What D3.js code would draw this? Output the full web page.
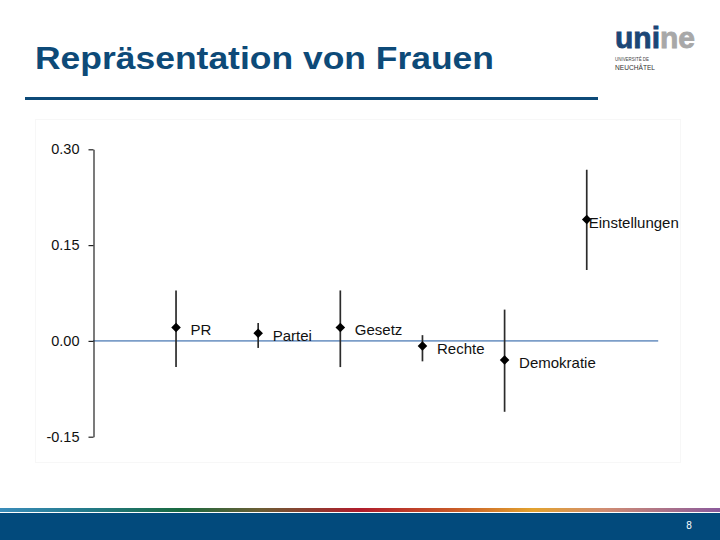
<!DOCTYPE html>
<html>
<head>
<meta charset="utf-8">
<script src="https://cdn.jsdelivr.net/npm/d3@7"></script>
<style>
  html, body { margin: 0; padding: 0; background: #ffffff; }
  svg { display: block; }
</style>
</head>
<body>
<svg id="chart" width="720" height="540"></svg>
<script>
// ---- data ----
const categories = ["PR", "Partei", "Gesetz", "Rechte", "Demokratie", "Einstellungen"];
const estimates  = [0.021, 0.012, 0.021, -0.008, -0.030, 0.190];
const lowerCI    = [-0.041, -0.011, -0.041, -0.032, -0.111, 0.111];
const upperCI    = [0.079, 0.028, 0.079, 0.009, 0.049, 0.268];
const yTicks     = [-0.15, 0.00, 0.15, 0.30];
const yTickLabels = ["-0.15", "0.00", "0.15", "0.30"];
const titleText  = "Repräsentation von Frauen";
const pageNumber = "8";

// ---- layout ----
const svg = d3.select("#chart");
const W = 720, H = 540;

// title
svg.append("text")
  .attr("x", 35).attr("y", 69)
  .attr("font-family", "Liberation Sans, Arial, sans-serif")
  .attr("font-weight", "bold")
  .attr("font-size", 31)
  .attr("fill", "#0d4a78")
  .attr("textLength", 459)
  .attr("lengthAdjust", "spacingAndGlyphs")
  .text(titleText);

// title underline
svg.append("rect")
  .attr("x", 25).attr("y", 97).attr("width", 573).attr("height", 3)
  .attr("fill", "#0d4a78");

// logo
const logo = svg.append("g");
const lt = logo.append("text")
  .attr("x", 615).attr("y", 48)
  .attr("font-family", "Liberation Sans, Arial, sans-serif")
  .attr("font-weight", "bold")
  .attr("font-size", 29)
  .attr("textLength", 80)
  .attr("lengthAdjust", "spacingAndGlyphs")
  .attr("stroke-width", 0.8);
lt.append("tspan").attr("fill", "#1b4676").attr("stroke", "#1b4676").text("uni");
lt.append("tspan").attr("fill", "#a8a8a8").attr("stroke", "#a8a8a8").text("ne");
logo.append("text")
  .attr("x", 615).attr("y", 61)
  .attr("font-family", "Liberation Sans, Arial, sans-serif")
  .attr("font-size", 5.5).attr("fill", "#444")
  .attr("textLength", 34).attr("lengthAdjust", "spacingAndGlyphs")
  .text("UNIVERSITÉ DE");
logo.append("text")
  .attr("x", 615).attr("y", 70)
  .attr("font-family", "Liberation Sans, Arial, sans-serif")
  .attr("font-size", 6.5).attr("fill", "#333")
  .attr("textLength", 40).attr("lengthAdjust", "spacingAndGlyphs")
  .text("NEUCHÂTEL");

// chart frame (faint pasted image background)
svg.append("rect")
  .attr("x", 35.5).attr("y", 119.5).attr("width", 645).attr("height", 343)
  .attr("fill", "#ffffff").attr("stroke", "#f7f7f7");

// scales
const y = d3.scaleLinear().domain([-0.15, 0.30]).range([436.7, 149.3]);
const x = d3.scaleLinear().domain([0, 7]).range([93.9, 93.9 + 7 * 82.14]);

// zero reference line
svg.append("line")
  .attr("x1", 93).attr("x2", x(6.87))
  .attr("y1", y(0)).attr("y2", y(0))
  .attr("stroke", "#7c9ec8").attr("stroke-width", 1.6);

// y axis
const axis = svg.append("g")
  .attr("transform", "translate(93.5,0)")
  .call(d3.axisLeft(y).tickValues(yTicks)
    .tickFormat((d, i) => yTickLabels[i])
    .tickSize(5).tickSizeOuter(0).tickPadding(9));
axis.select(".domain").attr("stroke", "#222").attr("stroke-width", 1.2);
axis.selectAll(".tick line").attr("stroke", "#222").attr("stroke-width", 1.2);
axis.selectAll(".tick text")
  .attr("font-family", "Liberation Sans, Arial, sans-serif")
  .attr("font-size", 14.5)
  .attr("fill", "#111");

// error bars
const idx = d3.range(categories.length);
svg.append("g").selectAll("line")
  .data(idx).join("line")
  .attr("x1", i => x(i + 1)).attr("x2", i => x(i + 1))
  .attr("y1", i => y(upperCI[i])).attr("y2", i => y(lowerCI[i]))
  .attr("stroke", "#2b2b2b").attr("stroke-width", 1.7);

// point markers (diamonds)
const diamond = d3.symbol().type(d3.symbolSquare).size(46);
svg.append("g").selectAll("path")
  .data(idx).join("path")
  .attr("d", diamond)
  .attr("transform", i => `translate(${x(i + 1)},${y(estimates[i])}) rotate(45)`)
  .attr("fill", "#000");

// labels
const labelDx = i => categories[i] === "Einstellungen" ? 2 : 14.5;
svg.append("g").selectAll("text")
  .data(idx).join("text")
  .attr("x", i => x(i + 1) + labelDx(i))
  .attr("y", i => y(estimates[i]) + 2.5)
  .attr("dominant-baseline", "central")
  .attr("font-family", "Liberation Sans, Arial, sans-serif")
  .attr("font-size", 15)
  .attr("fill", "#111")
  .text(i => categories[i]);

// bottom gradient strip and blue band
const defs = svg.append("defs");
const grad = defs.append("linearGradient").attr("id", "strip").attr("x1", "0").attr("x2", "1").attr("y1", "0").attr("y2", "0");
[
  [0.00, "#3a8cba"], [0.12, "#237a8a"], [0.25, "#196a40"], [0.36, "#6a5e34"],
  [0.50, "#b01c2c"], [0.63, "#c85a28"], [0.74, "#e2a22e"], [0.84, "#d08c72"],
  [1.00, "#8a5a9c"]
].forEach(([o, c]) => grad.append("stop").attr("offset", o).attr("stop-color", c));

svg.append("rect").attr("x", 0).attr("y", 508).attr("width", W).attr("height", 4)
  .attr("fill", "url(#strip)");
svg.append("rect").attr("x", 0).attr("y", 513).attr("width", W).attr("height", H - 513)
  .attr("fill", "#024a7c");

svg.append("text")
  .attr("x", 689).attr("y", 525)
  .attr("text-anchor", "middle").attr("dominant-baseline", "central")
  .attr("font-family", "Liberation Sans, Arial, sans-serif")
  .attr("font-size", 10).attr("fill", "#ffffff")
  .text(pageNumber);
</script>
</body>
</html>
